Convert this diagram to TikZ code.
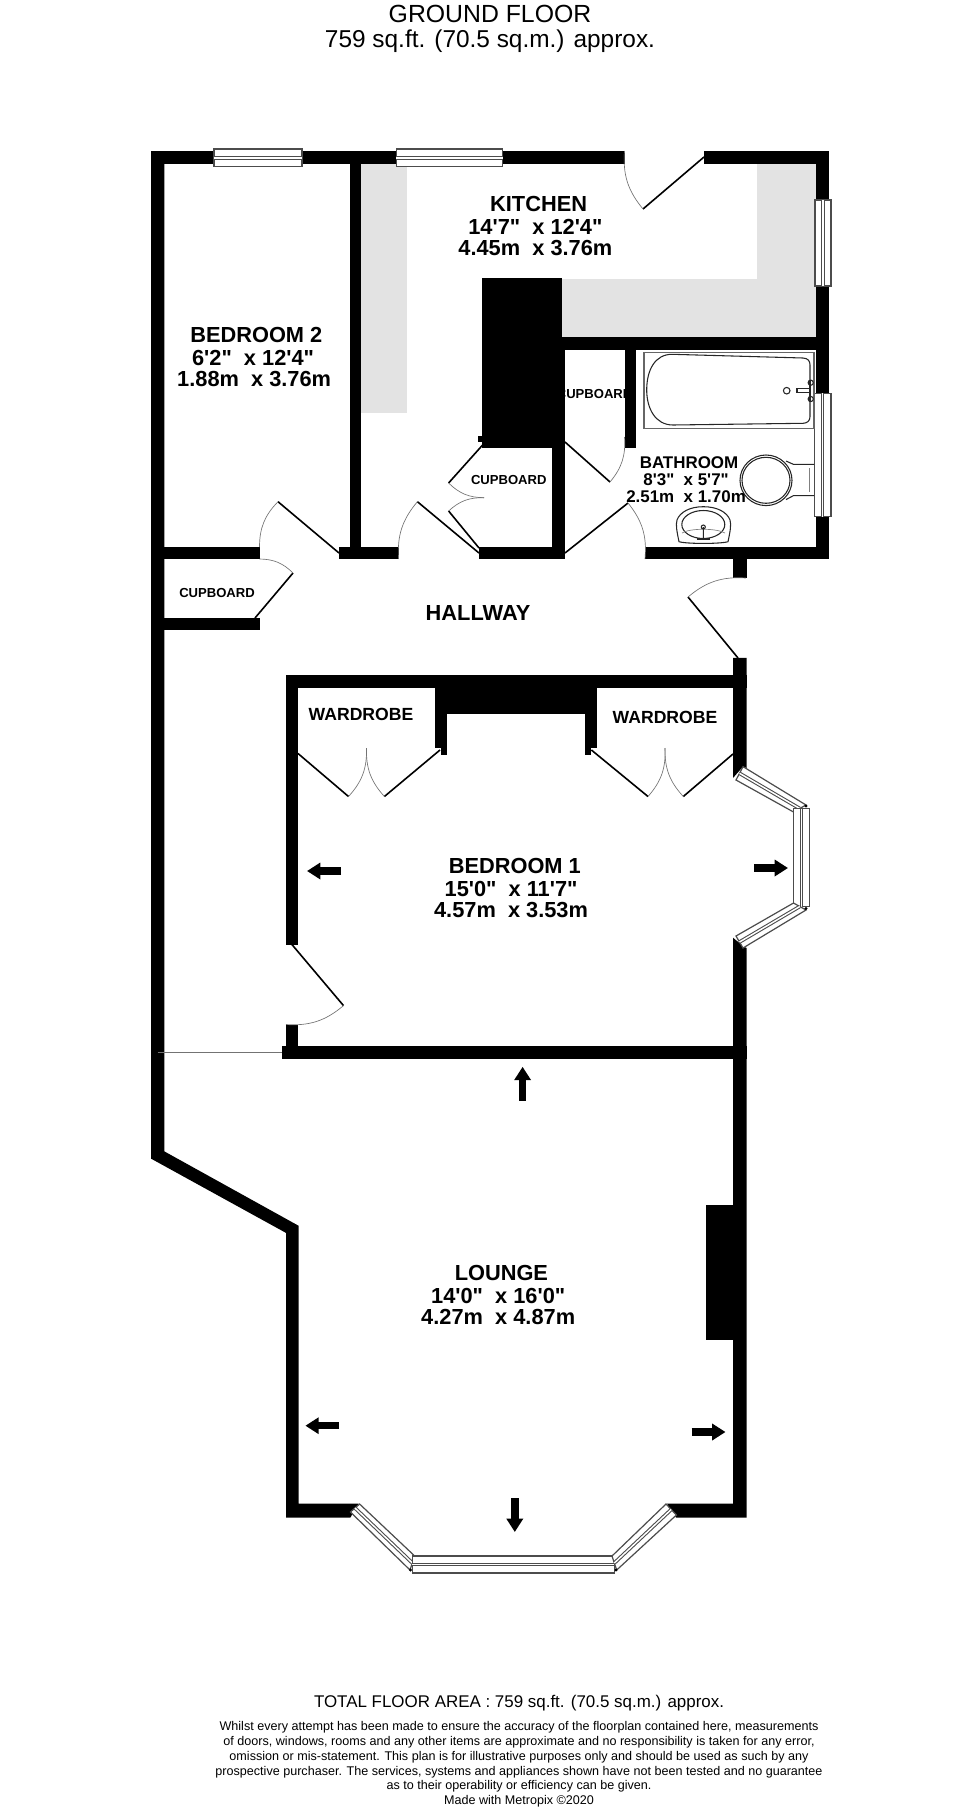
\documentclass[tikz,border=0pt]{standalone}
\usepackage{fontspec}
\usetikzlibrary{positioning,calc,arrows.meta}
\newfontfamily\planfont{Liberation Sans}
\newcommand{\glazing}[4]{
    \draw[pane] (#1) -- (#2) -- (#3) -- (#4) -- cycle;
    \draw[panemid] ($(#1)!0.5!(#4)$) -- ($(#2)!0.5!(#3)$);
}
\tikzset{
    wall/.style={fill=black},
    worktop/.style={fill=black!11},
    leaf/.style={draw=black,line width=1.2pt},
    swing/.style={draw=black!55,line width=0.5pt},
    pane/.style={draw=black!70,fill=white,line width=0.9pt},
    panemid/.style={draw=black!70,line width=0.8pt,double=white,double distance=1.1pt},
    fixture/.style={draw=black!85,line width=0.8pt},
    moveto/.style={draw=black,line width=5.6pt,-{Triangle[length=10pt,width=12pt]}},
    roomname/.style={inner sep=0pt,font=\planfont\bfseries\fontsize{16.35}{17}\selectfont},
    roomsize/.style={inner sep=0pt,font=\planfont\bfseries\fontsize{16.35}{17}\selectfont},
    bathname/.style={inner sep=0pt,font=\planfont\bfseries\fontsize{12.7}{13}\selectfont},
    storename/.style={inner sep=0pt,font=\planfont\bfseries\fontsize{9.8}{10}\selectfont},
    robename/.style={inner sep=0pt,font=\planfont\bfseries\fontsize{13.2}{14}\selectfont},
}
\begin{document}
\begin{tikzpicture}[x=0.75pt,y=-0.75pt]
    \useasboundingbox (0,0) rectangle (980,1809);

    \fill[worktop] (361,164) rectangle (407,413);
    \fill[worktop] (757,164) rectangle (816,337);
    \fill[worktop] (562,279) rectangle (816,337);

    \fill[wall] (151,151) -- (164.4,151) -- (164.4,1151.4) -- (298.5,1225.7) -- (298.5,1503.6)
        -- (358.6,1503.6) -- (350.4,1517.5) -- (286,1517.5) -- (286,1232.9) -- (151,1158.6) -- cycle;
    \fill[wall] (151,151) rectangle (624.5,164.3);
    \fill[wall] (704,151) rectangle (829.3,164.3);
    \fill[wall] (816,151) rectangle (829.3,337);
    \fill[wall] (349.5,151) rectangle (361.4,559.3);
    \fill[wall] (562,337.3) rectangle (829.3,350);
    \fill[wall] (816,337) rectangle (829.3,559.3);
    \fill[wall] (482,278.3) rectangle (562,448.3);
    \fill[wall] (552.4,350) rectangle (565.3,559.3);
    \fill[wall] (478,436) rectangle (482,442);
    \fill[wall] (624.5,350) rectangle (636.4,448.3);
    \fill[wall] (151,546.7) rectangle (259.5,559.3);
    \fill[wall] (339,546.7) rectangle (398.6,559.3);
    \fill[wall] (479,546.7) rectangle (565.3,559.3);
    \fill[wall] (645,546.7) rectangle (829.3,559.3);
    \fill[wall] (733,559) rectangle (746.6,578);
    \fill[wall] (151,618.3) rectangle (260,630);

    \fill[wall] (733,657.8) -- (746.6,657.8) -- (746.6,768) -- (743,766.6) -- (733,778) -- cycle;
    \fill[wall] (286,675.3) rectangle (746.6,688);
    \fill[wall] (435,675.3) rectangle (597,714);
    \fill[wall] (435,700) rectangle (447,748);
    \fill[wall] (441,748) rectangle (447,755);
    \fill[wall] (584.5,700) rectangle (597,748);
    \fill[wall] (584.5,748) rectangle (591,755);
    \fill[wall] (286,675.3) rectangle (298,944.6);
    \fill[wall] (286,1024.5) rectangle (298,1050);
    \fill[wall] (282.4,1046) rectangle (746.6,1059);
    \fill[wall] (733,937.7) -- (743,946) -- (746.6,948) -- (746.6,1517.5) -- (676,1517.5)
        -- (667,1503.6) -- (733,1503.6) -- cycle;
    \fill[wall] (706,1205) rectangle (733,1340);
    \draw[swing] (157.5,1052.7) -- (282.4,1052.7);

    \glazing{214,149}{302,149}{302,166.7}{214,166.7}
    \glazing{396.3,149}{502.8,149}{502.8,166.7}{396.3,166.7}
    \glazing{815,200}{815,286}{831,286}{831,200}
    \glazing{814.3,393.3}{814.3,516.7}{831,516.7}{831,393.3}
    \glazing{743,766.6}{806,805}{793.5,812}{736,780}
    \glazing{793.5,808.6}{793.5,906.7}{809.5,906.7}{809.5,808.6}
    \glazing{793.5,903}{736,936}{743,948}{806,910}
    \glazing{359.6,1504}{414.7,1556}{410,1570}{350.4,1512}
    \glazing{412.4,1556}{614.4,1556}{614.4,1573}{412.4,1573}
    \glazing{612,1556}{666,1504}{676.4,1515}{616.7,1570}
    \fill[wall] (806,806) circle (1.6);
    \fill[wall] (806,908.5) circle (1.6);
    \fill[wall] (410.5,1570) circle (1.6);
    \fill[wall] (616,1570) circle (1.6);

    \draw[leaf] (704,157) -- (643,209);
    \draw[swing] (643,209) to[bend left=22] (624.5,151);
    \draw[leaf] (339,553) -- (278,501.7);
    \draw[swing] (259.5,547) to[bend left=22] (278,501.7);
    \draw[leaf] (479,553) -- (417.4,501.7);
    \draw[swing] (398.6,559) to[bend left=22] (417.4,501.7);
    \draw[leaf] (484.4,443) -- (448.6,483);
    \draw[swing] (484,497.7) to[bend left=22] (448.6,483);
    \draw[leaf] (479,548) -- (448.6,511);
    \draw[swing] (448.6,511) to[bend left=22] (484,497.7);
    \draw[leaf] (565,553) -- (628,503);
    \draw[swing] (628,503) to[bend left=22] (645,559);
    \draw[leaf] (565,442) -- (610,482);
    \draw[swing] (624.5,437) to[bend left=22] (610,482);
    \draw[leaf] (255,618) -- (293,573);
    \draw[swing] (259.5,559) to[bend left=22] (293,573);
    \draw[leaf] (738,658) -- (688,597);
    \draw[swing] (688,597) to[bend left=22] (746,578);
    \draw[leaf] (298,753.5) -- (348.5,796.5);
    \draw[swing] (366.5,748) to[bend left=22] (348.5,796.5);
    \draw[leaf] (440,750) -- (384.4,796.5);
    \draw[swing] (384.4,796.5) to[bend left=22] (366.5,748);
    \draw[leaf] (591.4,750) -- (648,796.5);
    \draw[swing] (665,748) to[bend left=22] (648,796.5);
    \draw[leaf] (733,754) -- (683.3,796.5);
    \draw[swing] (683.3,796.5) to[bend left=22] (665,748);
    \draw[leaf] (292,944.6) -- (343.5,1005.6);
    \draw[swing] (343.5,1005.6) to[bend left=22] (286,1024.5);

    \draw[draw=black!60,line width=0.9pt] (644,352.3) rectangle (814,428.3);
    \draw[fixture] (672,354.3) -- (803,358) .. controls (808,358.3) and (810,361) .. (810,365)
        -- (810,416.7) .. controls (810,421) and (807,423.2) .. (803,423.3) -- (673,425)
        .. controls (655,425) and (646.7,408) .. (646.7,390)
        .. controls (646.7,370) and (655,354.3) .. (672,354.3) -- cycle;
    \draw[fixture] (786.7,390.7) circle (3.3);
    \draw[fixture] (810,388.7) -- (797,388.7) -- (797,392.7) -- (810,392.7);
    \draw[fixture,fill=white] (810.7,382.7) circle (2.6);
    \draw[fixture,fill=white] (810.7,399) circle (2.6);
    \draw[fixture] (810,380) -- (810,402);

    \draw[fixture] (766,480.3) ellipse (26 and 25.3);
    \draw[fixture] (766,480.3) ellipse (24 and 23);
    \draw[fixture] (786,461) -- (793.3,464.3) -- (814,464.3);
    \draw[fixture] (786,499.6) -- (793.3,495.7) -- (814,495.7);
    \draw[draw=black!50,line width=0.5pt] (809.3,468) -- (809.3,491.7);

    \draw[fixture] (679,541.7) .. controls (677,532) and (675.5,525) .. (677,520)
        .. controls (680,512) and (690,506.7) .. (703.3,506.7)
        .. controls (717,506.7) and (727,512) .. (730,520)
        .. controls (731.5,525) and (730,532) .. (728,541.7)
        .. controls (720,544) and (687,544) .. (679,541.7) -- cycle;
    \draw[fixture] (703.3,524.5) ellipse (21.5 and 14);
    \draw[draw=black!50,line width=0.5pt] (682,533) .. controls (690,528) and (716,528) .. (725,533);
    \draw[fixture] (703.3,527) circle (2) -- (703.3,538);
    \draw[fixture] (697,539) -- (710,539);

    \draw[moveto] (522.6,1100.7) -- (522.6,1066.8);
    \draw[moveto] (339,1425.7) -- (305.4,1425.7);
    \draw[moveto] (691.5,1432) -- (725.5,1432);
    \draw[moveto] (514.8,1498) -- (514.8,1532);
    \draw[moveto] (341,871) -- (307,871);
    \draw[moveto] (754.4,868) -- (788,868);

    \node[inner sep=0pt,font=\planfont\fontsize{18.6}{18.8}\selectfont] (plantitle) at (490,14) {GROUND FLOOR};
    \node[inner sep=0pt,font=\planfont\fontsize{18.3}{18.8}\selectfont] (planarea) at (490,41) {759 sq.ft. (70.5 sq.m.) approx.};

    \node[roomname] (kitchen) at (538.6,204) {KITCHEN};
    \node[roomsize,below=5.2pt of kitchen,xshift=-2.4pt] (kitchenft) {14'7"\ \ x 12'4"};
    \node[roomsize,below=4.2pt of kitchenft] (kitchenm) {4.45m\ \ x 3.76m};

    \node[roomname] (bedtwo) at (256.3,335) {BEDROOM 2};
    \node[roomsize,below=5.2pt of bedtwo,xshift=-2.4pt] (bedtwoft) {6'2"\ \ x 12'4"};
    \node[roomsize,below=4.2pt of bedtwoft,xshift=0.8pt] (bedtwom) {1.88m\ \ x 3.76m};

    \node[roomname] (hallway) at (478,613.3) {HALLWAY};

    \node[roomname] (bedone) at (514.8,865.8) {BEDROOM 1};
    \node[roomsize,below=5.2pt of bedone,xshift=-2.8pt] (bedoneft) {15'0"\ \ x 11'7"};
    \node[roomsize,below=4.2pt of bedoneft] (bedonem) {4.57m\ \ x 3.53m};

    \node[roomname] (lounge) at (501.4,1273) {LOUNGE};
    \node[roomsize,below=5.2pt of lounge,xshift=-2.4pt] (loungeft) {14'0"\ \ x 16'0"};
    \node[roomsize,below=4.2pt of loungeft] (loungem) {4.27m\ \ x 4.87m};

    \node[bathname] (bathroom) at (689,462.7) {BATHROOM};
    \node[bathname,below=3.6pt of bathroom,xshift=-2.2pt] (bathroomft) {8'3"\ \ x 5'7"};
    \node[bathname,below=3.4pt of bathroomft] (bathroomm) {2.51m\ \ x 1.70m};

    \node[storename] (storehall) at (217,593) {CUPBOARD};
    \node[storename] (storemid) at (508.8,479.7) {CUPBOARD};
    \node[storename] (storebath) at (594.6,394) {CUPBOARD};
    \node[robename] (robeleft) at (361,714) {WARDROBE};
    \node[robename] (roberight) at (665,717) {WARDROBE};

    \node[inner sep=0pt,font=\planfont\fontsize{12.7}{13}\selectfont] (totalarea) at (519,1702.7)
        {TOTAL FLOOR AREA : 759 sq.ft. (70.5 sq.m.) approx.};
    \node[inner sep=0pt,below=8pt of totalarea,align=center,font=\planfont\fontsize{9.44}{11.05}\selectfont] (smallprint)
        {Whilst every attempt has been made to ensure the accuracy of the floorplan contained here, measurements\\
        of doors, windows, rooms and any other items are approximate and no responsibility is taken for any error,\\
        omission or mis-statement. This plan is for illustrative purposes only and should be used as such by any\\
        prospective purchaser. The services, systems and appliances shown have not been tested and no guarantee\\
        as to their operability or efficiency can be given.\\
        Made with Metropix \textcopyright2020};
\end{tikzpicture}
\end{document}
